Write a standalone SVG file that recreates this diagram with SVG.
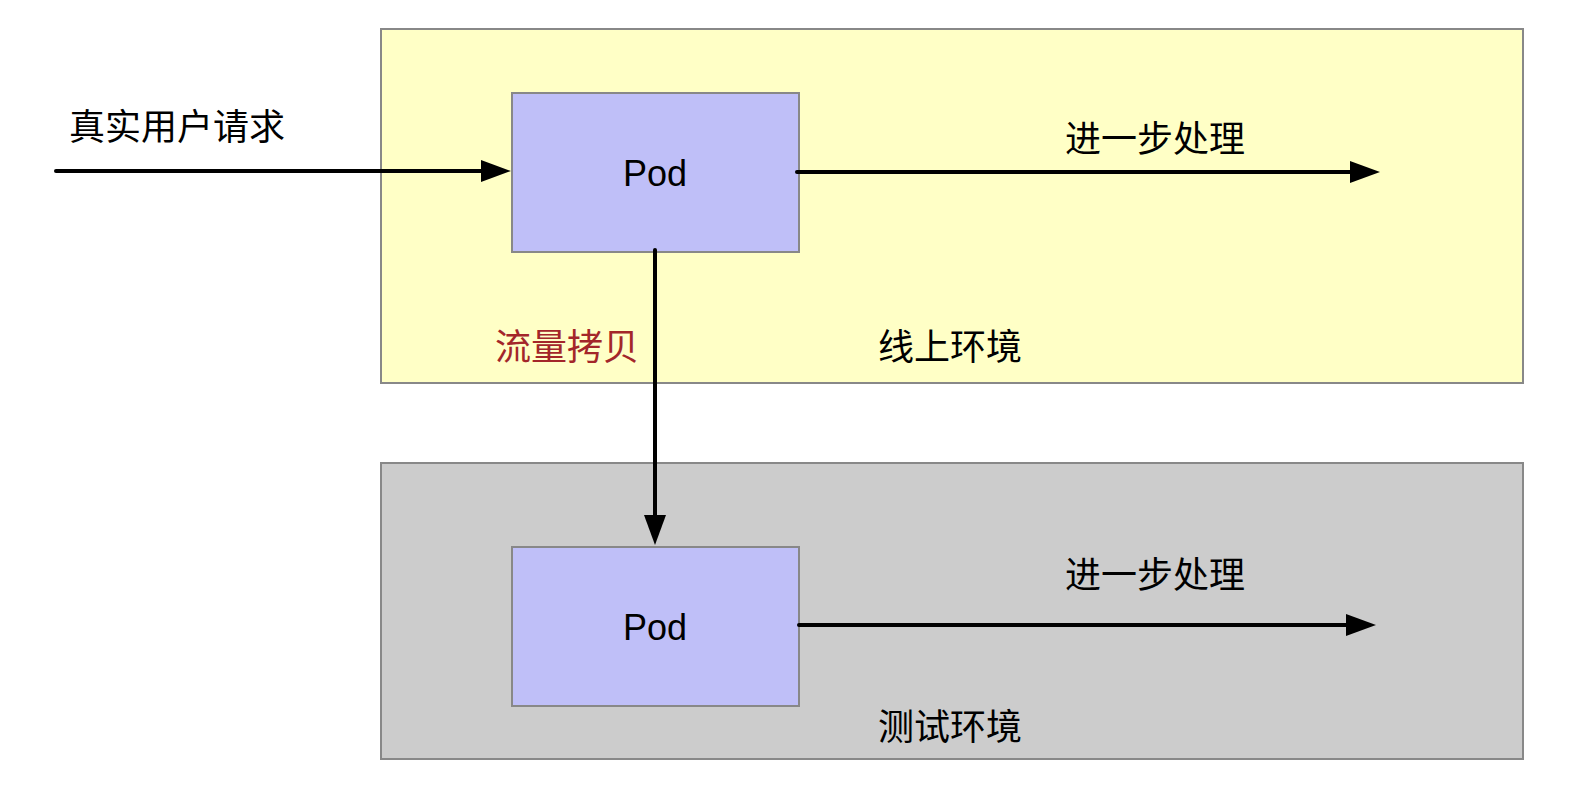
<svg xmlns="http://www.w3.org/2000/svg" width="1594" height="810" viewBox="0 0 1594 810">
  <style>
    .env { stroke: #888888; stroke-width: 2; }
    .online { fill: #ffffc6; }
    .test { fill: #cccccc; }
    .pod { fill: #bfbff8; stroke: #888888; stroke-width: 2; }
    .podtxt { font-family: "Liberation Sans", Arial, sans-serif; font-size: 36px; fill: #000; text-anchor: middle; }
    .cjk { font-family: "Noto Sans CJK SC", "Noto Sans", sans-serif; font-size: 36px; fill: #000; }
    .red { fill: #a3262a; }
    .conn { stroke: #000; stroke-width: 4; fill: none; stroke-linecap: round; }
  </style>
  <defs>
    <marker id="arrow" markerUnits="userSpaceOnUse" markerWidth="30" markerHeight="22" refX="0" refY="11" orient="auto" viewBox="0 0 30 22">
      <path d="M0,0 L30,11 L0,22 z" fill="#000"/>
    </marker>
  </defs>

  <g id="env-online">
    <rect class="env online" x="381" y="29" width="1142" height="354"/>
    <text class="cjk" x="878" y="360">线上环境</text>
  </g>
  <g id="env-test">
    <rect class="env test" x="381" y="463" width="1142" height="296"/>
    <text class="cjk" x="878" y="740">测试环境</text>
  </g>

  <g id="pod-online">
    <rect class="pod" x="512" y="93" width="287" height="159"/>
    <text class="podtxt" x="655" y="186">Pod</text>
  </g>
  <g id="pod-test">
    <rect class="pod" x="512" y="547" width="287" height="159"/>
    <text class="podtxt" x="655" y="640">Pod</text>
  </g>

  <g id="connectors">
    <line class="conn" x1="56" y1="171" x2="481" y2="171" marker-end="url(#arrow)"/>
    <line class="conn" x1="797" y1="172" x2="1350" y2="172" marker-end="url(#arrow)"/>
    <line class="conn" x1="655" y1="250" x2="655" y2="515" marker-end="url(#arrow)"/>
    <line class="conn" x1="799" y1="625" x2="1346" y2="625" marker-end="url(#arrow)"/>
  </g>

  <g id="labels">
    <text class="cjk" x="69" y="140">真实用户请求</text>
    <text class="cjk" x="1065" y="152">进一步处理</text>
    <text class="cjk red" x="495" y="360">流量拷贝</text>
    <text class="cjk" x="1065" y="588">进一步处理</text>
  </g>
</svg>
